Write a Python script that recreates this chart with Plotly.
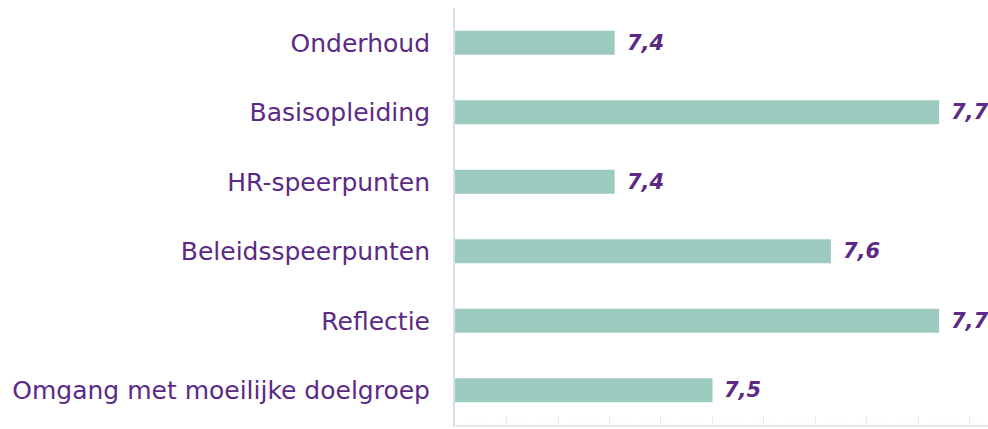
import plotly.graph_objects as go

categories = ["Onderhoud", "Basisopleiding", "HR-speerpunten", "Beleidsspeerpunten",
              "Reflectie", "Omgang met moeilijke doelgroep"]
values = [7.405, 7.72, 7.405, 7.615, 7.72, 7.50]
value_labels = ["7,4", "7,7", "7,4", "7,6", "7,7", "7,5"]

purple = "#5B2A86"
bar_color = "#9DCABE"

fig = go.Figure()
fig.add_trace(go.Bar(
    x=values, y=categories, orientation="h",
    marker=dict(color=bar_color, line=dict(width=0)),
    hoverinfo="skip",
))

for v, c, t in zip(values, categories, value_labels):
    fig.add_annotation(x=v, y=c, text=t, showarrow=False, xanchor="left",
                       xshift=10, yshift=0,
                       font=dict(family="DejaVu Sans", size=21, color=purple,
                                 style="italic", weight="bold"))

fig.update_layout(
    width=988, height=429,
    margin=dict(l=455, r=0, t=8, b=4, autoexpand=False),
    paper_bgcolor="white", plot_bgcolor="white",
    bargap=0.655,
    showlegend=False,
    xaxis=dict(range=[7.25, 7.7675], showgrid=False, zeroline=False, automargin=False,
               showticklabels=False, ticks="inside", ticklen=8, tickcolor="#E3E6EA",
               dtick=0.05, tick0=7.25,
               showline=True, linecolor="#E3E6EA", linewidth=2,
               minor=dict(ticks="inside", ticklen=3, tickcolor="#EEF0F2", dtick=0.01)),
    yaxis=dict(autorange="reversed", showgrid=False, zeroline=False, automargin=False,
               showline=True, linecolor="#D6DFEE", linewidth=2,
               ticks="", ticklabelstandoff=18,
               tickfont=dict(family="DejaVu Sans", size=25, color=purple)),
)

fig.write_html("out.html", config={"displayModeBar": False},
               post_script="document.body.style.margin='0px';document.body.style.overflow='hidden';")
